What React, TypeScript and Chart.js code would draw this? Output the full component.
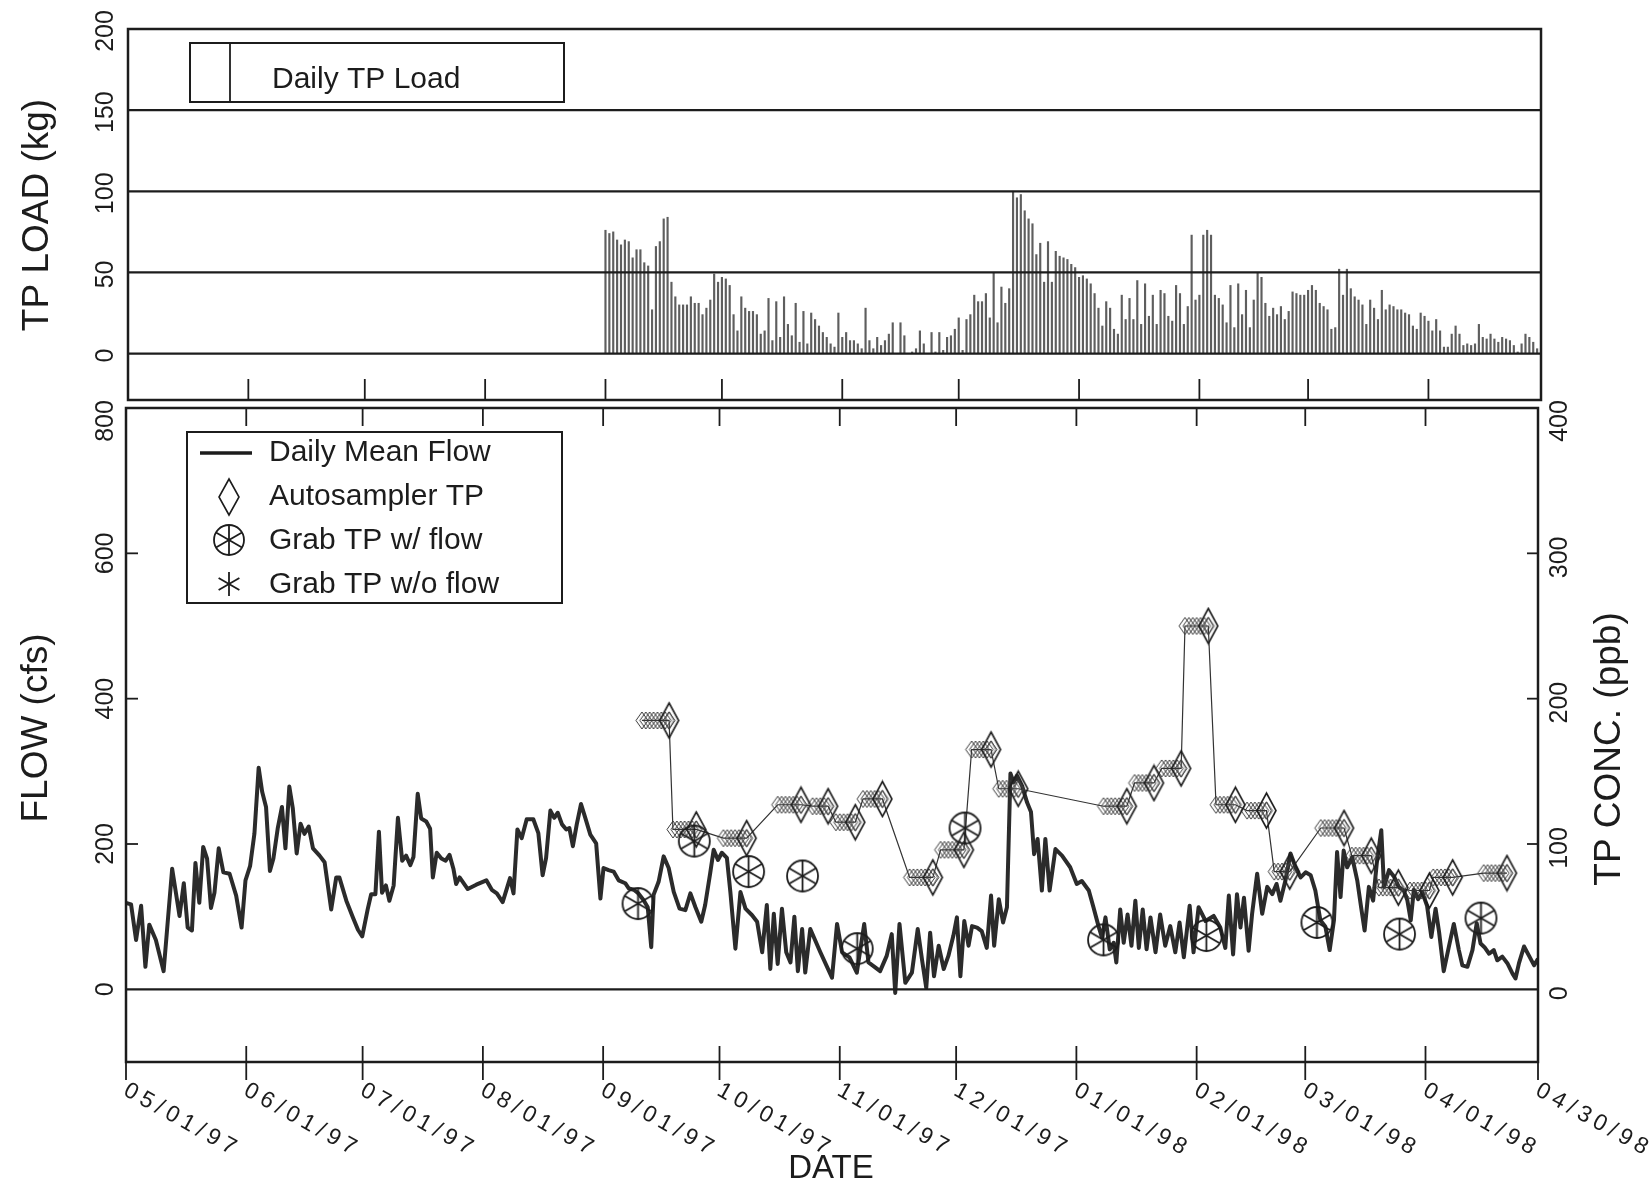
import React, { useEffect, useRef } from "react";
import { Chart, registerables } from "chart.js";

Chart.register(...registerables);

const PAGE_W = 1649;
const PAGE_H = 1189;
const INK = "#1c1c1c";
const FONT = '"Liberation Sans", "DejaVu Sans", Arial, sans-serif';

// ---- axis ticks / labels ----
const monthTickDays = [0, 31, 61, 92, 123, 153, 184, 214, 245, 276, 304, 335, 364];
const monthTickLabels = [
  "05/01/97", "06/01/97", "07/01/97", "08/01/97", "09/01/97", "10/01/97",
  "11/01/97", "12/01/97", "01/01/98", "02/01/98", "03/01/98", "04/01/98", "04/30/98",
];
const loadTickValues = [0, 50, 100, 150, 200];
const loadGridValues = [0, 50, 100, 150];
const flowTickValues = [0, 200, 400, 600, 800];
const concTickValues = [0, 100, 200, 300, 400];

// ---- daily mean flow (cfs), day index from 05/01/97 ----
const flowDays = [
  0, 1.3, 2.6, 3.9, 5.0, 6.0, 7.7, 9.7, 11.9, 13.8,
  14.9, 15.9, 17.0, 17.9, 18.9, 19.9, 20.9, 21.9, 22.8, 23.9,
  25.1, 26.7, 28.4, 29.8, 30.8, 32.0, 33.1, 34.2, 35.1, 36.1,
  37.1, 38.0, 39.1, 40.2, 41.1, 42.1, 43.0, 44.0, 45.0, 46.0,
  47.1, 48.2, 49.9, 51.2, 52.9, 54.2, 55.0, 56.8, 58.5, 59.8,
  60.9, 62.3, 63.2, 64.3, 65.2, 66.0, 67.0, 67.9, 69.0, 70.1,
  71.2, 72.2, 73.3, 74.1, 75.2, 76.1, 77.4, 78.4, 79.1, 80.1,
  81.3, 82.4, 83.4, 84.4, 85.1, 86.0, 88.1, 90.3, 92.9, 94.3,
  95.6, 97.1, 99.0, 99.9, 100.9, 102.0, 103.3, 105.0, 106.3, 107.4,
  108.3, 109.4, 110.4, 111.3, 112.4, 113.5, 114.3, 115.2, 116.2, 117.3,
  118.4, 119.7, 121.2, 122.3, 123.1, 124.4, 125.7, 127.0, 128.7, 129.6,
  130.9, 132.1, 133.4, 134.5, 135.4, 136.0, 137.3, 138.6, 139.9, 141.2,
  142.7, 144.2, 145.5, 146.8, 148.3, 149.3, 150.6, 151.5, 152.6, 153.6,
  154.9, 155.8, 157.1, 158.4, 159.7, 161.4, 162.7, 164.0, 165.2, 166.1,
  167.0, 168.0, 169.1, 170.2, 171.3, 172.3, 173.2, 174.3, 175.1, 176.4,
  179.0, 182.0, 183.3, 184.6, 186.5, 188.4, 190.3, 191.4, 192.7, 194.4,
  196.1, 197.4, 198.3, 199.4, 200.9, 202.6, 204.1, 205.2, 206.3, 207.3,
  208.3, 209.5, 210.8, 212.0, 213.3, 214.2, 215.1, 216.1, 217.2, 218.1,
  219.4, 220.6, 221.9, 223.0, 223.8, 225.0, 226.1, 227.1, 228.0, 228.8,
  229.7, 231.0, 232.3, 233.3, 234.1, 235.0, 236.1, 237.0, 238.1, 239.6,
  241.3, 243.4, 245.1, 246.4, 248.2, 249.4, 250.7, 251.6, 252.5, 253.6,
  254.6, 255.3, 256.3, 257.2, 258.2, 259.2, 260.2, 261.1, 262.1, 263.1,
  264.1, 265.4, 266.6, 267.9, 269.2, 270.5, 271.6, 272.7, 274.2, 275.2,
  276.5, 278.3, 280.4, 282.1, 283.4, 284.3, 285.4, 286.4, 287.3, 288.2,
  289.4, 290.3, 291.6, 292.9, 294.2, 295.5, 296.6, 297.6, 298.9, 300.2,
  301.5, 302.8, 304.1, 305.4, 306.6, 307.9, 309.2, 310.3, 311.4, 312.2,
  313.1, 313.9, 314.8, 316.1, 317.4, 318.4, 319.3, 320.4, 321.5, 322.5,
  323.6, 324.3, 325.6, 326.9, 328.1, 329.4, 330.3, 331.2, 332.0, 333.1,
  334.2, 335.4, 336.5, 337.6, 338.5, 339.7, 341.0, 342.3, 343.6, 344.5,
  345.8, 347.1, 348.2, 349.2, 350.2, 351.4, 352.6, 353.5, 354.8, 356.1,
  357.4, 358.2, 359.1, 360.4, 361.7, 363.0, 364.0,
];
const flowCfs = [
  119, 117, 68, 115, 31, 89, 68, 25, 166, 101,
  146, 85, 81, 174, 119, 196, 180, 112, 133, 194,
  161, 159, 129, 85, 150, 170, 214, 305, 272, 251,
  163, 180, 221, 251, 194, 279, 249, 187, 228, 214,
  224, 194, 184, 175, 110, 154, 154, 122, 99, 82,
  73, 110, 131, 131, 217, 133, 143, 122, 143, 236,
  177, 184, 171, 182, 269, 235, 231, 221, 154, 188,
  180, 177, 185, 166, 145, 154, 138, 144, 150, 137,
  132, 120, 153, 132, 220, 208, 234, 234, 215, 157,
  181, 246, 236, 243, 227, 220, 222, 197, 227, 255,
  236, 213, 201, 125, 167, 164, 162, 150, 146, 139,
  137, 132, 123, 113, 58, 130, 148, 183, 167, 134,
  111, 109, 132, 113, 93, 116, 160, 192, 178, 188,
  181, 134, 56, 134, 111, 102, 93, 51, 116, 28,
  104, 35, 111, 51, 37, 100, 25, 83, 23, 83,
  51, 16, 90, 51, 44, 23, 90, 37, 32, 25,
  46, 76, -5, 90, 9, 23, 83, 41, 2, 78,
  18, 60, 28, 46, 74, 99, 18, 94, 60, 87,
  85, 80, 57, 129, 60, 124, 92, 113, 297, 285,
  294, 280, 257, 244, 186, 207, 136, 207, 136, 193,
  184, 168, 145, 149, 136, 113, 87, 71, 99, 55,
  64, 37, 110, 64, 103, 60, 122, 57, 110, 55,
  99, 51, 103, 60, 87, 51, 92, 44, 115, 51,
  113, 94, 101, 85, 57, 129, 48, 131, 85, 126,
  53, 104, 159, 104, 141, 131, 145, 122, 150, 187,
  168, 154, 161, 157, 136, 95, 86, 54, 95, 189,
  127, 191, 168, 182, 150, 113, 81, 141, 122, 177,
  219, 141, 164, 155, 141, 136, 123, 95, 137, 124,
  133, 115, 72, 111, 79, 25, 58, 90, 54, 33,
  31, 54, 91, 63, 58, 49, 54, 40, 45, 36,
  22, 15, 36, 59, 46, 33, 42,
];

// ---- daily TP load (kg), one value per day starting 09/01/97 ----
const loadStartDay = 123;
const loadKg = [
  76, 74, 75, 70, 67, 70, 69, 59, 64, 64,
  56, 54, 27, 66, 69, 83, 84, 44, 35, 30,
  30, 30, 35, 31, 31, 24, 28, 33, 49, 44,
  47, 46, 42, 24, 14, 35, 28, 26, 26, 24,
  12, 14, 34, 8, 32, 10, 35, 18, 11, 31,
  7, 26, 6, 25, 21, 17, 13, 10, 6, 4,
  25, 10, 13, 8, 8, 6, 3, 28, 8, 3,
  10, 5, 8, 12, 19, 0, 19, 11, 0, 1,
  3, 14, 6, 0, 13, 1, 13, 2, 10, 11,
  15, 22, 2, 21, 24, 36, 32, 32, 37, 22,
  50, 19, 41, 31, 40, 100, 96, 98, 88, 83,
  80, 61, 68, 44, 69, 44, 63, 60, 59, 58,
  55, 53,
  47, 48, 46, 43, 37, 28, 17, 32, 28, 15,
  12, 36, 21, 34, 21, 45, 18, 43, 23, 36,
  18, 39, 37, 23, 20, 42, 37, 18, 29, 73,
  33, 36, 73, 76, 73, 36, 34, 30, 19, 42,
  16, 43, 24, 39, 16, 33, 50, 47, 31, 23,
  28, 24, 29, 21, 26, 38, 37, 36, 36, 39,
  42, 39, 31, 29, 27, 15, 16, 52, 36, 52,
  40, 35, 33, 30, 18, 33, 28, 21, 39, 27,
  30, 29, 27, 27, 25, 24, 17, 15, 25, 23,
  20, 14, 21, 14, 4, 4, 12, 17, 12, 5,
  6, 5, 6, 18, 10, 9, 12, 9, 7, 10,
  9, 8, 5, 1, 6, 12, 10, 7, 3,
];

// ---- autosampler composite samples (TP ppb) ----
const autoStartDay = [133, 141, 154, 168, 177, 183, 190, 202, 210, 218, 225, 252, 260, 267, 273, 281, 289, 296, 308, 316, 323, 331, 337, 350];
const autoEndDay = [140, 147, 160, 174, 181, 188, 195, 208, 216, 223, 230, 258, 265, 272, 279, 286, 294, 300, 314, 321, 328, 336, 342, 356];
const autoConcPpb = [185, 110, 104, 127, 126, 115, 131, 77, 96, 165, 138, 126, 142, 152, 250, 127, 123, 81, 111, 92, 70, 68, 77, 80];

// ---- grab samples with flow (TP ppb) ----
const grabDays = [132, 146.5, 160.5, 174.4, 188.5, 216.3, 252, 278.5, 307, 328.3, 349.3];
const grabConcPpb = [59, 102, 81, 78, 28, 111, 34, 37, 46, 38, 49];

// ---------- helpers ----------
function line(ctx: any, x1: number, y1: number, x2: number, y2: number) {
  ctx.beginPath();
  ctx.moveTo(x1, y1);
  ctx.lineTo(x2, y2);
  ctx.stroke();
}

function vText(ctx: any, text: string, x: number, y: number, font: string) {
  ctx.save();
  ctx.translate(x, y);
  ctx.rotate(-Math.PI / 2);
  ctx.font = font;
  ctx.textAlign = "center";
  ctx.textBaseline = "middle";
  ctx.fillText(text, 0, 0);
  ctx.restore();
}

function makeDiamond(w: number, h: number, lw: number, stroke: string, inner: boolean) {
  const c = document.createElement("canvas");
  c.width = Math.ceil(w + 4);
  c.height = Math.ceil(h + 4);
  const g = c.getContext("2d") as CanvasRenderingContext2D;
  const cx = c.width / 2;
  const cy = c.height / 2;
  const dia = (ww: number, hh: number) => {
    g.beginPath();
    g.moveTo(cx, cy - hh / 2);
    g.lineTo(cx + ww / 2, cy);
    g.lineTo(cx, cy + hh / 2);
    g.lineTo(cx - ww / 2, cy);
    g.closePath();
    g.stroke();
  };
  g.strokeStyle = stroke;
  g.lineWidth = lw;
  dia(w, h);
  if (inner) {
    g.lineWidth = 1;
    g.strokeStyle = "#444";
    dia(w * 0.5, h * 0.5);
  }
  return c;
}

function makeAsterisk(r: number, withCircle: boolean, lw: number) {
  const c = document.createElement("canvas");
  const s = Math.ceil(r * 2 + 6);
  c.width = s;
  c.height = s;
  const g = c.getContext("2d") as CanvasRenderingContext2D;
  const cx = s / 2;
  const cy = s / 2;
  g.strokeStyle = INK;
  g.lineWidth = lw;
  if (withCircle) {
    g.beginPath();
    g.arc(cx, cy, r, 0, Math.PI * 2);
    g.stroke();
  }
  for (const deg of [90, 30, 150]) {
    const a = (deg * Math.PI) / 180;
    const dx = Math.cos(a) * r;
    const dy = Math.sin(a) * r;
    g.beginPath();
    g.moveTo(cx - dx, cy - dy);
    g.lineTo(cx + dx, cy + dy);
    g.stroke();
  }
  return c;
}

export default function App() {
  const topRef = useRef<HTMLCanvasElement | null>(null);
  const botRef = useRef<HTMLCanvasElement | null>(null);

  useEffect(() => {
    const bigDiamond = makeDiamond(19, 35, 1.6, INK, true);
    const legendDiamond = makeDiamond(20, 36, 1.6, INK, false);
    const smallDiamond = makeDiamond(12, 17, 1, "#3a3a3a", false);
    const grabImg = makeAsterisk(15.5, true, 1.8);
    const legendGrab = makeAsterisk(15, true, 1.8);
    const legendStar = makeAsterisk(12, false, 1.8);

    // ---------- top chart: daily TP load ----------
    const loadPts = loadKg.map((v, i) => ({ x: loadStartDay + i, y: v }));

    const topDeco = {
      id: "topDeco",
      afterDatasetsDraw(chart: any) {
        const { ctx, chartArea: a } = chart;
        const xs = chart.scales.x;
        const ys = chart.scales.y;
        ctx.save();
        ctx.strokeStyle = INK;
        ctx.fillStyle = INK;
        ctx.lineWidth = 2.2;
        for (const v of loadGridValues) {
          const py = ys.getPixelForValue(v);
          line(ctx, a.left, py, a.right, py);
        }
        ctx.lineWidth = 2.5;
        ctx.strokeRect(a.left, a.top, a.right - a.left, a.bottom - a.top);
        ctx.lineWidth = 1.8;
        for (const d of monthTickDays) {
          const px = xs.getPixelForValue(d);
          line(ctx, px, a.bottom, px, a.bottom - 21);
        }
        for (const v of loadTickValues) {
          vText(ctx, String(v), 106, ys.getPixelForValue(v) + 2, `25px ${FONT}`);
        }
        vText(ctx, "TP LOAD (kg)", 38, 215, `37px ${FONT}`);
        // legend
        ctx.lineWidth = 2;
        ctx.strokeRect(190, 43, 374, 59);
        ctx.lineWidth = 1.8;
        line(ctx, 230, 43, 230, 102);
        ctx.font = `30px ${FONT}`;
        ctx.textAlign = "left";
        ctx.textBaseline = "alphabetic";
        ctx.fillText("Daily TP Load", 272, 88);
        ctx.restore();
      },
    };

    const topChart = new Chart(topRef.current as HTMLCanvasElement, {
      type: "bar",
      data: {
        datasets: [
          {
            label: "Daily TP Load",
            data: loadPts as any,
            backgroundColor: "#5e5e5e",
            borderWidth: 0,
            barThickness: 1.5,
          },
        ],
      },
      options: {
        responsive: false,
        maintainAspectRatio: false,
        animation: false,
        events: [],
        layout: { padding: { left: 128, right: PAGE_W - 1541, top: 29, bottom: PAGE_H - 400 } },
        plugins: { legend: { display: false }, tooltip: { enabled: false } },
        scales: {
          x: { type: "linear", min: 0, max: 364, offset: false, display: false },
          y: { type: "linear", min: -28.6, max: 200, display: false },
        },
      } as any,
      plugins: [topDeco],
    });

    // ---------- bottom chart: flow + TP concentration ----------
    const flowPts = flowDays.map((d, i) => ({ x: d, y: flowCfs[i] }));
    const autoDaily: { x: number; y: number }[] = [];
    autoStartDay.forEach((s, i) => {
      for (let d = s; d <= autoEndDay[i]; d++) autoDaily.push({ x: d, y: autoConcPpb[i] });
    });
    const autoEnds = autoEndDay.map((d, i) => ({ x: d, y: autoConcPpb[i] }));
    const grabPts = grabDays.map((d, i) => ({ x: d, y: grabConcPpb[i] }));

    const botDeco = {
      id: "botDeco",
      afterDatasetsDraw(chart: any) {
        const { ctx, chartArea: a } = chart;
        const xs = chart.scales.x;
        const yl = chart.scales.y;
        const yr = chart.scales.y2;
        ctx.save();
        ctx.strokeStyle = INK;
        ctx.fillStyle = INK;
        ctx.lineWidth = 2.2;
        const y0 = yl.getPixelForValue(0);
        line(ctx, a.left, y0, a.right, y0);
        ctx.lineWidth = 2.5;
        ctx.strokeRect(a.left, a.top, a.right - a.left, a.bottom - a.top);
        ctx.lineWidth = 1.8;
        for (const d of monthTickDays) {
          const px = xs.getPixelForValue(d);
          line(ctx, px, a.top, px, a.top + 18);
          line(ctx, px, a.bottom - 16, px, a.bottom + 18);
        }
        for (const v of [200, 400, 600]) {
          const py = yl.getPixelForValue(v);
          line(ctx, a.left, py, a.left + 12, py);
        }
        for (const v of [100, 200, 300]) {
          const py = yr.getPixelForValue(v);
          line(ctx, a.right - 11, py, a.right, py);
        }
        for (const v of flowTickValues) {
          let py = yl.getPixelForValue(v);
          if (py < a.top + 13) py = a.top + 13;
          vText(ctx, String(v), 106, py, `25px ${FONT}`);
        }
        for (const v of concTickValues) {
          let py = yr.getPixelForValue(v);
          if (py < a.top + 9) py = a.top + 9;
          vText(ctx, String(v), 1560, py + 4, `25px ${FONT}`);
        }
        vText(ctx, "FLOW (cfs)", 37, 728, `37px ${FONT}`);
        vText(ctx, "TP CONC. (ppb)", 1610, 749, `37px ${FONT}`);
        // date labels
        ctx.font = `23px ${FONT}`;
        (ctx as any).letterSpacing = "5px";
        ctx.textAlign = "left";
        ctx.textBaseline = "top";
        monthTickDays.forEach((d, i) => {
          const px = xs.getPixelForValue(d);
          ctx.save();
          ctx.translate(px + 5, a.bottom + 17);
          ctx.rotate((29 * Math.PI) / 180);
          ctx.fillText(monthTickLabels[i], 0, 0);
          ctx.restore();
        });
        (ctx as any).letterSpacing = "0px";
        ctx.font = `33px ${FONT}`;
        ctx.textAlign = "center";
        ctx.textBaseline = "middle";
        ctx.fillText("DATE", 831, 1169);
        // legend
        ctx.lineWidth = 2;
        ctx.strokeRect(187, 432, 375, 171);
        ctx.lineWidth = 3.5;
        line(ctx, 200, 453, 252, 453);
        ctx.drawImage(legendDiamond, 229 - legendDiamond.width / 2, 497 - legendDiamond.height / 2);
        ctx.drawImage(legendGrab, 229 - legendGrab.width / 2, 540 - legendGrab.height / 2);
        ctx.drawImage(legendStar, 229 - legendStar.width / 2, 584 - legendStar.height / 2);
        ctx.font = `30px ${FONT}`;
        ctx.textAlign = "left";
        ctx.textBaseline = "alphabetic";
        ctx.fillText("Daily Mean Flow", 269, 461);
        ctx.fillText("Autosampler TP", 269, 505);
        ctx.fillText("Grab TP w/ flow", 269, 549);
        ctx.fillText("Grab TP w/o flow", 269, 593);
        ctx.restore();
      },
    };

    const botChart = new Chart(botRef.current as HTMLCanvasElement, {
      type: "line",
      data: {
        datasets: [
          {
            label: "Grab TP w/ flow",
            data: grabPts as any,
            yAxisID: "y2",
            showLine: false,
            pointStyle: grabImg as any,
            pointRadius: 3,
          },
          {
            label: "Autosampler TP",
            data: autoEnds as any,
            yAxisID: "y2",
            showLine: false,
            pointStyle: bigDiamond as any,
            pointRadius: 3,
          },
          {
            label: "Autosampler TP (daily)",
            data: autoDaily as any,
            yAxisID: "y2",
            borderColor: "#333",
            borderWidth: 1.2,
            pointStyle: smallDiamond as any,
            pointRadius: 3,
            tension: 0,
          },
          {
            label: "Daily Mean Flow",
            data: flowPts as any,
            yAxisID: "y",
            borderColor: "#2b2b2b",
            borderWidth: 4,
            borderJoinStyle: "round",
            pointRadius: 0,
            tension: 0,
          },
        ],
      },
      options: {
        responsive: false,
        maintainAspectRatio: false,
        animation: false,
        events: [],
        layout: { padding: { left: 126, right: PAGE_W - 1538, top: 408, bottom: PAGE_H - 1062 } },
        plugins: { legend: { display: false }, tooltip: { enabled: false } },
        scales: {
          x: { type: "linear", min: 0, max: 364, offset: false, display: false },
          y: { type: "linear", min: -100, max: 800, display: false },
          y2: { type: "linear", position: "right", min: -50, max: 400, display: false },
        },
      } as any,
      plugins: [botDeco],
    });

    return () => {
      topChart.destroy();
      botChart.destroy();
    };
  }, []);

  return (
    <div style={{ position: "absolute", left: 0, top: 0, width: PAGE_W, height: PAGE_H, background: "#fff" }}>
      <canvas ref={topRef} width={PAGE_W} height={PAGE_H} style={{ position: "absolute", left: 0, top: 0 }} />
      <canvas ref={botRef} width={PAGE_W} height={PAGE_H} style={{ position: "absolute", left: 0, top: 0 }} />
    </div>
  );
}
